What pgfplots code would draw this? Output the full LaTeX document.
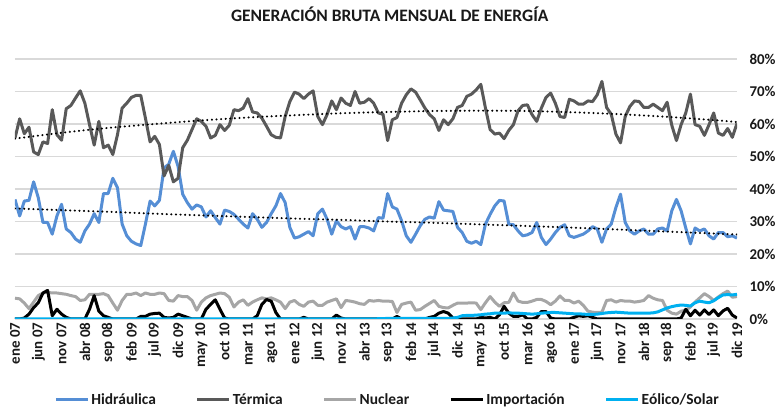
\documentclass[border=0pt]{standalone}
\usepackage{fontspec}
\setmainfont{Carlito}
\usepackage{pgfplots}
\usepackage{pgfplotstable}
\pgfplotsset{compat=1.18}
\definecolor{hid}{RGB}{85,142,213}
\definecolor{ter}{RGB}{89,89,89}
\definecolor{nuc}{RGB}{166,166,166}
\definecolor{eol}{RGB}{0,176,240}
\definecolor{gridc}{RGB}{217,217,217}

\pgfplotstableread{
i hid ter nuc imp eol
0 36.8 55.7 6.4 0 0
1 31.7 61.6 6.2 0 0
2 36.3 57.0 4.9 0.3 0
3 36.5 59.0 3.2 1.5 0
4 42.2 51.4 5.2 3.5 0
5 37.3 50.6 7.2 5.0 0
6 29.7 54.5 8.0 8.0 0
7 29.7 54.0 8.2 8.8 0
8 26.1 64.4 8.0 1.0 0
9 31.7 56.7 8.0 3.0 0
10 35.3 55.0 7.8 1.5 0
11 27.7 64.7 7.6 0.5 0
12 26.6 65.7 7.2 0 0
13 24.6 68.0 6.9 0 0
14 23.6 70.2 5.7 0 0
15 27.1 66.4 5.9 0 0
16 29.2 59.8 7.6 3.0 0
17 32.4 53.5 7.6 7.2 0
18 29.7 60.8 7.6 2.4 0
19 38.6 52.7 7.8 1.0 0
20 38.6 53.5 7.2 0.5 0
21 43.3 50.6 4.9 0 0
22 40.4 56.7 2.7 0 0
23 29.2 64.9 5.7 0 0
24 25.6 66.4 7.6 0 0
25 23.9 68.2 7.6 0 0
26 23.1 68.8 8.0 0 0
27 22.6 68.8 7.2 0.8 0
28 29.2 61.8 8.0 0.8 0
29 36.3 54.5 7.6 1.5 0
30 34.8 56.2 7.6 1.7 0
31 36.5 53.7 8.0 1.8 0
32 46.5 44.0 7.8 0.5 0
33 47.6 47.3 5.7 0.3 0
34 51.6 42.2 5.5 0.5 0
35 47.0 43.3 7.2 1.5 0
36 38.4 52.7 6.9 1.0 0
37 35.8 55.0 6.9 0.5 0
38 33.8 58.3 5.7 0 0
39 35.1 61.6 2.7 0 0
40 34.5 60.8 5.2 0 0
41 31.4 59.3 6.5 3.0 0
42 33.3 55.7 7.2 4.5 0
43 31.2 56.5 7.6 5.9 0
44 29.2 59.8 8.0 3.0 0
45 33.5 58.0 7.8 0.3 0
46 33.1 59.6 6.7 0 0
47 32.2 64.4 3.7 0 0
48 30.7 64.1 5.2 0 0
49 29.2 64.9 5.9 0 0
50 28.0 67.8 4.2 0 0
51 32.4 63.7 5.2 0 0
52 30.7 63.4 5.9 1.0 0
53 28.2 61.8 6.5 4.5 0
54 29.7 59.3 6.2 6.0 0
55 32.4 56.7 6.5 5.5 0
56 34.8 55.9 5.9 2.0 0
57 38.6 55.7 5.2 0 0
58 35.8 62.3 3.2 0 0
59 28.2 66.9 5.2 0 0
60 24.9 69.8 5.7 0 0
61 25.3 69.2 4.5 0 0
62 26.1 67.8 3.9 0.5 0
63 26.9 69.2 5.2 0 0
64 25.6 70.2 5.5 0 0
65 32.4 62.3 4.2 0 0
66 33.8 59.8 4.2 0 0
67 30.7 62.9 5.2 0 0
68 26.1 67.1 5.7 0 0
69 30.2 64.4 6.2 1.2 0
70 28.4 68.0 3.5 0.3 0
71 27.7 66.4 5.7 0 0
72 28.4 65.7 5.5 0 0
73 24.6 70.0 5.2 0 0
74 28.4 66.4 4.7 0 0
75 28.4 66.7 4.5 0 0
76 28.0 67.8 5.7 0 0
77 27.1 66.4 5.5 0 0
78 31.2 63.4 5.7 0 0.1
79 31.0 63.0 5.5 0 0.1
80 38.6 54.9 5.5 0 0.2
81 34.5 61.3 5.4 0 0.2
82 33.8 62.0 2.0 0.8 0.2
83 30.2 66.4 4.5 0 0.2
84 25.6 69.0 4.9 0 0.2
85 23.6 70.8 5.2 0 0.2
86 26.1 69.8 2.7 0 0.2
87 28.7 67.4 2.9 0 0.2
88 30.7 64.9 3.9 0 0.2
89 31.4 62.9 4.8 0.5 0.2
90 31.0 61.6 5.7 0.8 0.2
91 36.1 58.0 3.9 1.8 0.2
92 33.5 61.3 3.5 2.3 0.2
93 33.3 59.8 3.4 1.8 0.2
94 33.1 61.6 4.2 0.3 0.3
95 28.2 65.1 4.9 0 0.5
96 26.6 65.7 4.9 0 1.0
97 23.9 68.5 4.9 0 1.1
98 23.3 69.2 5.0 0 1.1
99 23.9 70.5 4.9 0 1.2
100 22.9 72.2 2.9 0.5 1.3
101 29.2 64.9 5.0 0.3 1.5
102 32.2 58.3 6.9 0.5 1.6
103 34.8 56.9 5.2 0 1.8
104 36.5 57.2 3.9 1.3 1.8
105 36.3 55.5 5.0 3.9 1.8
106 29.2 58.0 5.1 1.8 1.9
107 29.0 59.8 8.0 0.8 1.8
108 27.1 64.1 5.5 0.8 1.8
109 25.6 65.7 5.1 1.3 1.7
110 25.9 65.9 5.1 0 1.6
111 26.6 62.9 5.5 0 1.5
112 29.7 60.8 6.0 0.5 1.6
113 25.1 64.9 6.0 2.3 1.8
114 22.9 68.2 5.4 2.3 1.9
115 24.6 69.5 4.4 0.3 2.0
116 26.6 66.4 5.5 0 2.0
117 28.2 62.3 7.1 0 1.9
118 29.0 62.0 5.7 0 1.8
119 25.6 67.6 5.7 0 1.7
120 25.1 67.1 4.9 0.5 1.6
121 25.6 66.1 5.5 1.0 1.6
122 26.1 66.1 4.2 0.8 1.5
123 27.1 67.1 2.4 1.0 1.4
124 28.4 66.9 2.1 0.5 1.4
125 27.7 69.0 2.0 0 1.5
126 23.6 73.1 2.1 0 1.7
127 27.7 65.1 5.7 0 1.9
128 29.2 63.0 5.9 0 2.0
129 34.3 56.9 5.2 0 2.1
130 38.4 54.2 5.7 0 2.0
131 29.7 62.3 5.5 0 1.9
132 27.1 65.4 5.5 0 1.8
133 26.1 67.1 5.2 0 1.8
134 27.1 66.9 5.4 0 1.8
135 27.7 65.1 5.7 0 1.8
136 26.1 65.1 7.2 0 1.8
137 26.1 66.1 6.4 0 1.9
138 27.7 65.1 5.9 0 2.2
139 28.0 64.1 5.7 0 2.8
140 27.1 66.7 2.7 0 3.4
141 33.3 59.6 1.8 0 3.8
142 36.8 54.9 1.5 0 4.1
143 33.3 59.8 2.4 0.3 4.3
144 28.0 63.4 2.7 3.0 4.2
145 23.1 69.2 3.7 1.0 4.0
146 28.0 59.8 5.2 2.7 5.0
147 27.1 59.3 6.5 1.2 5.5
148 27.7 56.5 7.8 2.8 5.2
149 25.6 59.8 6.9 1.4 5.0
150 24.6 63.4 5.7 2.8 5.6
151 26.6 57.2 6.8 1.0 6.6
152 26.6 56.5 7.8 2.5 7.4
153 25.3 58.6 8.6 3.3 7.5
154 25.6 55.9 6.7 1.2 7.4
155 24.9 60.2 6.9 0.3 7.6
}\datos

\pgfplotstableread{
i th tt
0 34.0 55.5
10 33.5 57.3
20 33.0 58.8
30 32.4 60.0
40 31.9 61.1
50 31.4 62.0
60 30.9 62.7
70 30.5 63.3
80 30.0 63.7
90 29.6 64.0
100 29.1 64.1
110 28.6 64.0
120 28.1 63.6
130 27.5 63.0
140 26.9 62.2
150 26.3 61.2
155 26.0 60.6
}\tend

\begin{document}
\begin{tikzpicture}
\useasboundingbox (0,0) rectangle (776bp,409bp);
\begin{axis}[
  at={(15bp,90bp)}, anchor=south west,
  scale only axis, width=722bp, height=260bp,
  xmin=0, xmax=155, ymin=0, ymax=80,
  axis line style={draw=none},
  tick style={draw=none},
  ytick={0,10,20,30,40,50,60,70,80},
  yticklabels={0\%,10\%,20\%,30\%,40\%,50\%,60\%,70\%,80\%},
  yticklabel pos=right,
  yticklabel style={anchor=west, xshift=9bp},
  ymajorgrids,
  grid style={gridc, line width=1.3bp},
  xtick={0,5,...,155},
  xticklabels={ene 07, jun 07, nov 07, abr 08, sep 08, feb 09, jul 09, dic 09, may 10, oct 10, mar 11, ago 11, ene 12, jun 12, nov 12, abr 13, sep 13, feb 14, jul 14, dic 14, may 15, oct 15, mar 16, ago 16, ene 17, jun 17, nov 17, abr 18, sep 18, feb 19, jul 19, dic 19},
  xticklabel style={rotate=90, anchor=east},
  tick label style={font=\fontsize{15}{18}\selectfont\bfseries, text=black!90},
  title={GENERACIÓN BRUTA MENSUAL DE ENERGÍA},
  title style={at={(axis description cs:0.519,1.15)}, anchor=center, font=\fontsize{17.5}{20}\selectfont\bfseries, text=black!90},
  legend columns=5,
  legend style={at={(axis description cs:0.516,-0.3115)}, anchor=center, draw=none, fill=none,
     font=\fontsize{15.5}{18}\selectfont\bfseries, text=black!90,
     /tikz/every even column/.append style={column sep=38bp}},
  legend image code/.code={\draw[#1] (0bp,0bp) -- (32bp,0bp);},
  every axis plot/.append style={line width=3bp, line join=round},
]
\addplot[hid] table[x=i, y=hid] {\datos};
\addlegendentry{Hidráulica}
\addplot[ter] table[x=i, y=ter] {\datos};
\addlegendentry{Térmica}
\addplot[nuc] table[x=i, y=nuc] {\datos};
\addlegendentry{Nuclear}
\addplot[black] table[x=i, y=imp] {\datos};
\addlegendentry{Importación}
\addplot[eol] table[x=i, y=eol] {\datos};
\addlegendentry{Eólico/Solar}
\addplot[black, smooth, line width=2.2bp, line cap=round, dash pattern=on 0.1bp off 4.5bp, forget plot] table[x=i, y=th] {\tend};
\addplot[black, smooth, line width=2.2bp, line cap=round, dash pattern=on 0.1bp off 4.5bp, forget plot] table[x=i, y=tt] {\tend};
\end{axis}
\end{tikzpicture}
\end{document}
